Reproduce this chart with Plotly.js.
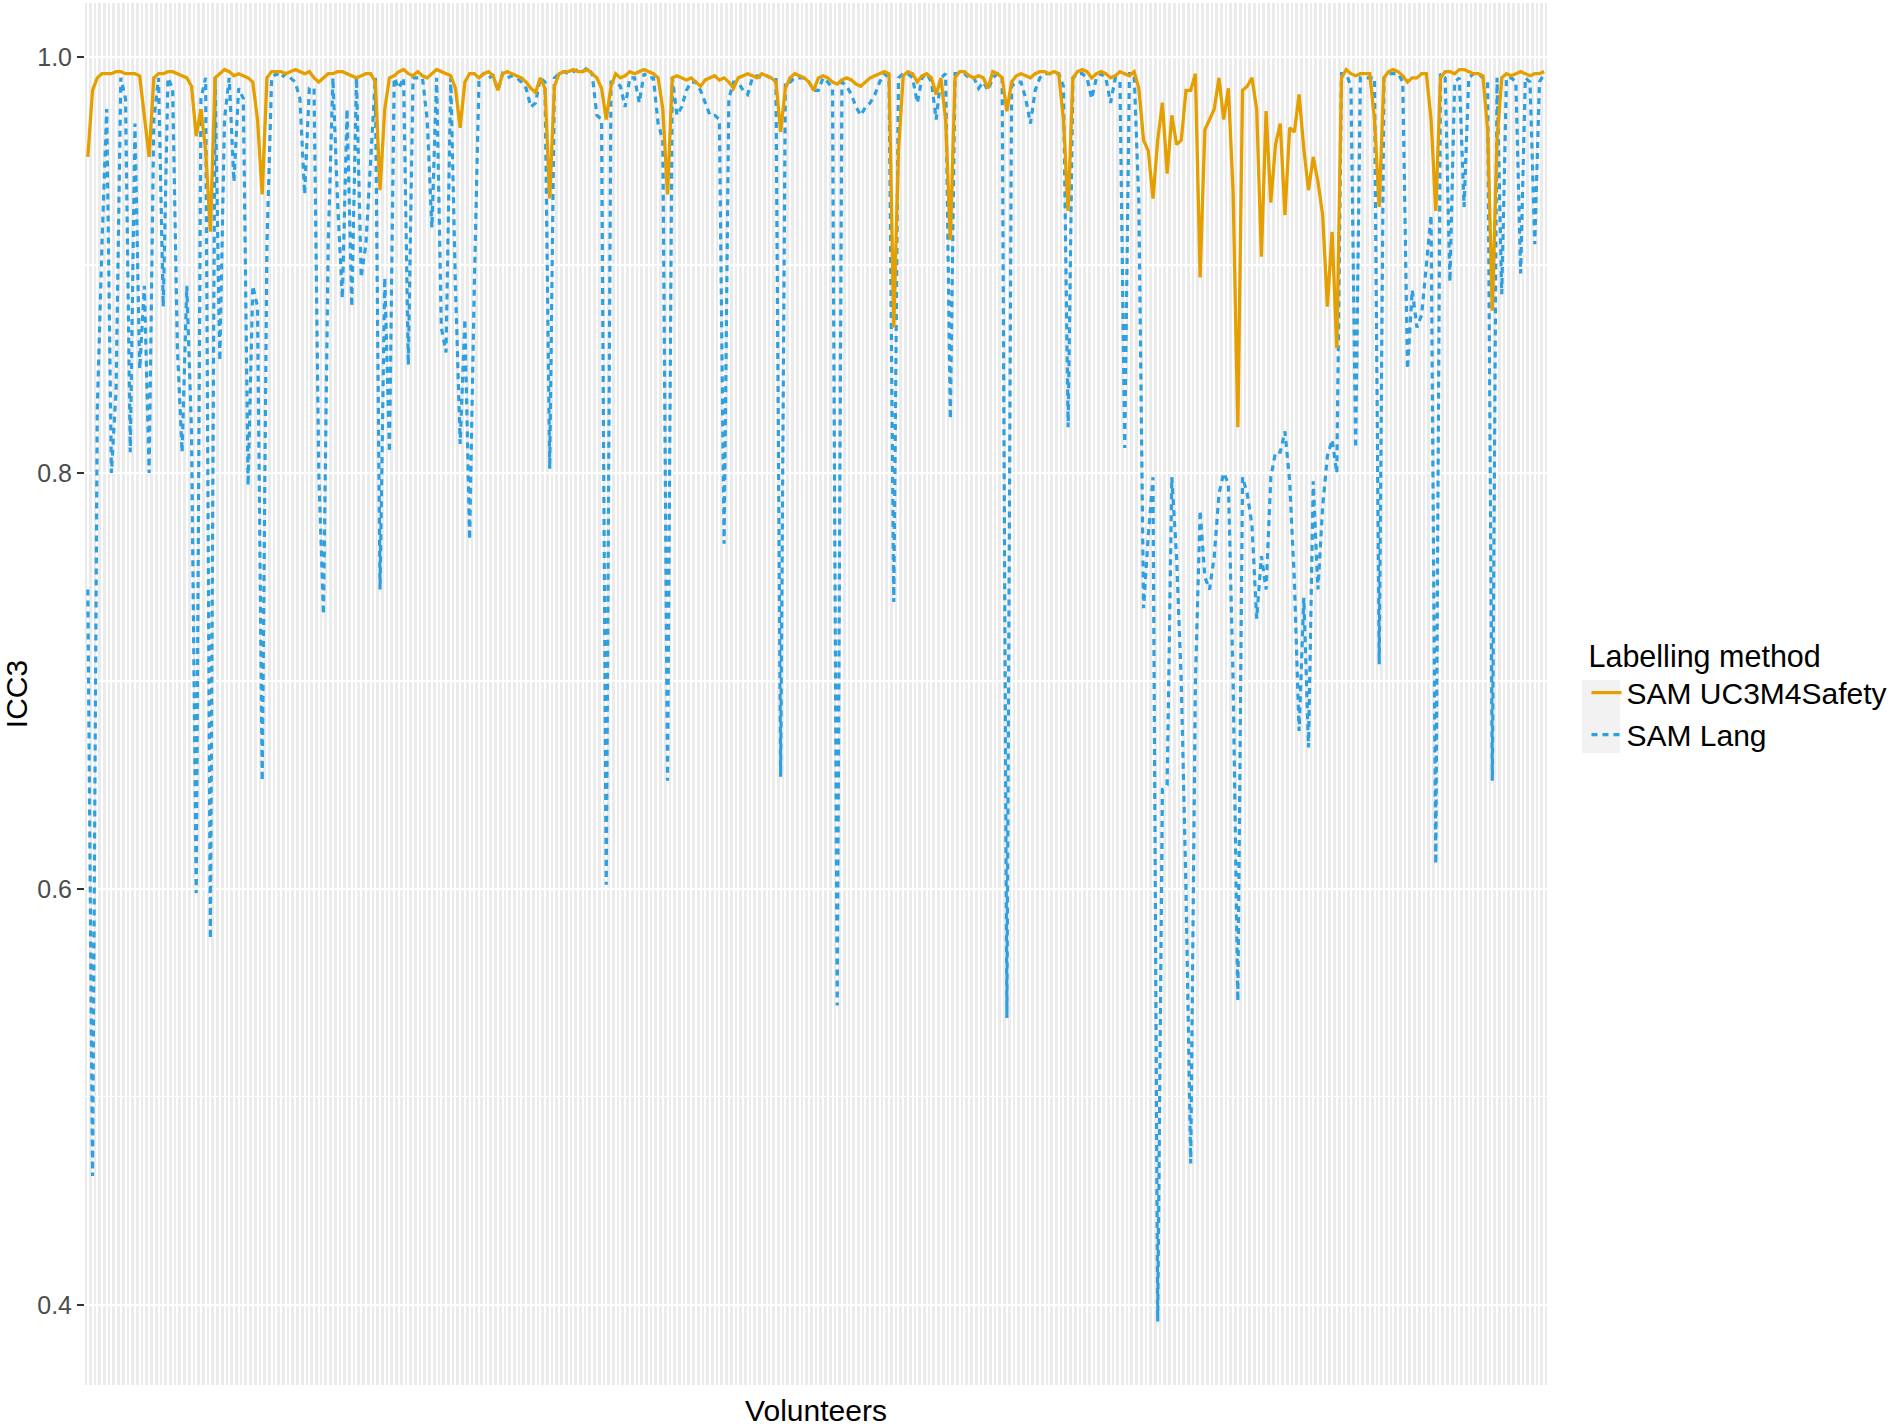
<!DOCTYPE html>
<html>
<head>
<meta charset="utf-8">
<script src="https://cdn.plot.ly/plotly-3.0.1.min.js"></script>
<style>
  html, body { margin: 0; padding: 0; background: #ffffff; }
  #icc_plot { width: 1901px; height: 1427px; }
</style>
</head>
<body>
<div id="icc_plot"></div>
<script>
// ICC3 per volunteer (one value per volunteer, left to right)
const seriesNames = ['SAM UC3M4Safety', 'SAM Lang'];

const iccUC3M = [
  0.952, 0.984, 0.990, 0.992, 0.992, 0.992, 0.993, 0.993, 0.992, 0.992,
  0.992, 0.991, 0.970, 0.952, 0.990, 0.992, 0.992, 0.993, 0.993, 0.992,
  0.991, 0.990, 0.986, 0.962, 0.975, 0.955, 0.916, 0.990, 0.992, 0.994,
  0.993, 0.991, 0.992, 0.991, 0.990, 0.988, 0.970, 0.934, 0.990, 0.993,
  0.993, 0.993, 0.992, 0.993, 0.994, 0.993, 0.992, 0.993, 0.990, 0.988,
  0.990, 0.992, 0.992, 0.993, 0.993, 0.992, 0.991, 0.990, 0.991, 0.992,
  0.992, 0.988, 0.936, 0.975, 0.990, 0.991, 0.993, 0.994, 0.992, 0.991,
  0.993, 0.991, 0.990, 0.992, 0.994, 0.993, 0.992, 0.991, 0.985, 0.966,
  0.988, 0.992, 0.992, 0.990, 0.992, 0.993, 0.991, 0.984, 0.992, 0.993,
  0.992, 0.991, 0.990, 0.988, 0.985, 0.983, 0.990, 0.985, 0.932, 0.986,
  0.992, 0.993, 0.993, 0.994, 0.993, 0.993, 0.994, 0.992, 0.990, 0.985,
  0.970, 0.986, 0.992, 0.990, 0.991, 0.993, 0.992, 0.993, 0.994, 0.993,
  0.992, 0.990, 0.975, 0.934, 0.990, 0.991, 0.990, 0.989, 0.990, 0.988,
  0.986, 0.989, 0.990, 0.991, 0.989, 0.990, 0.988, 0.985, 0.990, 0.991,
  0.992, 0.991, 0.990, 0.992, 0.991, 0.990, 0.988, 0.964, 0.985, 0.990,
  0.992, 0.991, 0.990, 0.988, 0.984, 0.990, 0.991, 0.990, 0.988, 0.987,
  0.989, 0.990, 0.989, 0.987, 0.986, 0.988, 0.990, 0.991, 0.992, 0.993,
  0.992, 0.870, 0.955, 0.991, 0.993, 0.992, 0.988, 0.991, 0.992, 0.990,
  0.982, 0.990, 0.970, 0.912, 0.990, 0.993, 0.993, 0.991, 0.990, 0.991,
  0.990, 0.985, 0.993, 0.992, 0.990, 0.974, 0.988, 0.991, 0.992, 0.991,
  0.990, 0.992, 0.993, 0.993, 0.992, 0.993, 0.992, 0.970, 0.926, 0.990,
  0.993, 0.994, 0.993, 0.990, 0.992, 0.993, 0.992, 0.990, 0.991, 0.993,
  0.992, 0.991, 0.993, 0.985, 0.960, 0.955, 0.932, 0.960, 0.978, 0.944,
  0.972, 0.958, 0.960, 0.984, 0.984, 0.992, 0.894, 0.965, 0.970, 0.975,
  0.990, 0.970, 0.985, 0.935, 0.822, 0.984, 0.986, 0.990, 0.975, 0.904,
  0.974, 0.930, 0.958, 0.968, 0.924, 0.966, 0.964, 0.982, 0.956, 0.936,
  0.952, 0.940, 0.924, 0.880, 0.916, 0.860, 0.990, 0.994, 0.992, 0.991,
  0.992, 0.992, 0.992, 0.970, 0.928, 0.990, 0.993, 0.994, 0.993, 0.991,
  0.988, 0.990, 0.990, 0.992, 0.992, 0.970, 0.926, 0.990, 0.993, 0.993,
  0.992, 0.994, 0.994, 0.993, 0.992, 0.992, 0.991, 0.965, 0.878, 0.960,
  0.990, 0.992, 0.991, 0.992, 0.993, 0.992, 0.991, 0.992, 0.992, 0.993
];

const iccLang = [
  0.744, 0.462, 0.830, 0.910, 0.975, 0.800, 0.840, 0.990, 0.980, 0.810,
  0.968, 0.850, 0.890, 0.800, 0.970, 0.990, 0.880, 0.990, 0.985, 0.860,
  0.810, 0.890, 0.820, 0.598, 0.980, 0.990, 0.576, 0.990, 0.854, 0.970,
  0.990, 0.940, 0.985, 0.980, 0.794, 0.890, 0.880, 0.652, 0.910, 0.990,
  0.992, 0.990, 0.992, 0.990, 0.988, 0.980, 0.934, 0.985, 0.985, 0.800,
  0.732, 0.910, 0.990, 0.930, 0.884, 0.975, 0.880, 0.990, 0.894, 0.910,
  0.948, 0.990, 0.744, 0.894, 0.810, 0.990, 0.985, 0.990, 0.852, 0.990,
  0.990, 0.990, 0.970, 0.918, 0.990, 0.870, 0.858, 0.990, 0.890, 0.814,
  0.874, 0.768, 0.890, 0.990, 0.992, 0.990, 0.991, 0.984, 0.992, 0.990,
  0.991, 0.990, 0.988, 0.985, 0.976, 0.978, 0.990, 0.988, 0.802, 0.990,
  0.992, 0.993, 0.992, 0.993, 0.994, 0.993, 0.995, 0.992, 0.972, 0.970,
  0.602, 0.988, 0.988, 0.986, 0.976, 0.990, 0.990, 0.978, 0.992, 0.990,
  0.990, 0.968, 0.960, 0.652, 0.990, 0.972, 0.976, 0.984, 0.988, 0.988,
  0.984, 0.978, 0.972, 0.972, 0.970, 0.766, 0.980, 0.988, 0.988, 0.984,
  0.982, 0.990, 0.991, 0.990, 0.991, 0.990, 0.990, 0.654, 0.988, 0.988,
  0.990, 0.990, 0.990, 0.988, 0.984, 0.984, 0.990, 0.988, 0.985, 0.544,
  0.988, 0.986, 0.982, 0.976, 0.972, 0.976, 0.978, 0.982, 0.988, 0.992,
  0.990, 0.738, 0.990, 0.992, 0.992, 0.990, 0.978, 0.990, 0.992, 0.988,
  0.970, 0.990, 0.992, 0.826, 0.992, 0.992, 0.992, 0.990, 0.990, 0.985,
  0.988, 0.984, 0.990, 0.992, 0.990, 0.538, 0.986, 0.988, 0.988, 0.980,
  0.968, 0.984, 0.990, 0.992, 0.992, 0.992, 0.992, 0.986, 0.822, 0.990,
  0.992, 0.992, 0.990, 0.980, 0.990, 0.992, 0.990, 0.978, 0.990, 0.988,
  0.812, 0.992, 0.992, 0.930, 0.735, 0.770, 0.798, 0.392, 0.648, 0.650,
  0.798, 0.760, 0.700, 0.600, 0.468, 0.700, 0.782, 0.750, 0.744, 0.760,
  0.790, 0.800, 0.795, 0.700, 0.546, 0.798, 0.790, 0.775, 0.730, 0.760,
  0.744, 0.798, 0.810, 0.810, 0.820, 0.796, 0.748, 0.676, 0.740, 0.668,
  0.796, 0.744, 0.784, 0.808, 0.816, 0.800, 0.992, 0.992, 0.986, 0.812,
  0.990, 0.990, 0.990, 0.990, 0.708, 0.990, 0.992, 0.992, 0.992, 0.988,
  0.850, 0.888, 0.870, 0.876, 0.900, 0.924, 0.612, 0.992, 0.990, 0.892,
  0.988, 0.990, 0.928, 0.990, 0.992, 0.992, 0.990, 0.988, 0.652, 0.990,
  0.886, 0.990, 0.990, 0.988, 0.896, 0.990, 0.988, 0.910, 0.988, 0.992
];

// volunteers are plotted by their position on a discrete axis
const volunteers = iccLang.map((_, i) => i);

const fontFamily = '"Liberation Sans", Arial, sans-serif';

const traceLang = {
  x: volunteers,
  y: iccLang,
  name: seriesNames[1],
  type: 'scatter',
  mode: 'lines',
  line: { color: '#2E9FDF', width: 3.2, dash: '6px,5px' },
  hoverinfo: 'skip',
};
const traceUC3M = {
  x: volunteers,
  y: iccUC3M,
  name: seriesNames[0],
  type: 'scatter',
  mode: 'lines',
  line: { color: '#E69F00', width: 3.3 },
  hoverinfo: 'skip',
};

const layout = {
  width: 1901,
  height: 1427,
  margin: { l: 85, r: 354, t: 3, b: 42 },
  paper_bgcolor: '#ffffff',
  plot_bgcolor: '#EBEBEB',
  font: { family: fontFamily, color: '#000000' },
  showlegend: true,
  legend: {
    x: 1.027,
    xanchor: 'left',
    y: 0.5,
    yanchor: 'middle',
    traceorder: 'reversed',
    bgcolor: 'rgba(0,0,0,0)',
    font: { family: fontFamily, size: 30, color: '#000000' },
    title: { text: 'Labelling method', font: { family: fontFamily, size: 30.5, color: '#000000' } },
    itemwidth: 30,
    tracegroupgap: 0,
  },
  // grey key background behind the legend samples, as in ggplot
  shapes: [{
    type: 'rect', xref: 'paper', yref: 'paper',
    x0: 1.0239, x1: 1.0500, y0: 0.4573, y1: 0.5101,
    fillcolor: '#F2F2F2', line: { width: 0 }, layer: 'below',
  }],
  xaxis: {
    range: [-0.6, volunteers.length - 1 + 0.6],
    tick0: 0,
    dtick: 1,
    showticklabels: false,
    ticks: '',
    showgrid: true,
    gridcolor: '#ffffff',
    gridwidth: 2,
    zeroline: false,
    showline: false,
    automargin: false,
    title: { text: 'Volunteers', font: { family: fontFamily, size: 30, color: '#000000' }, standoff: 16 },
  },
  yaxis: {
    range: [0.3615, 1.026],
    tick0: 0,
    dtick: 0.2,
    tickformat: '.1f',
    ticks: 'outside',
    ticklen: 7,
    tickwidth: 2,
    tickcolor: '#333333',
    tickfont: { family: fontFamily, size: 25, color: '#4D4D4D' },
    showgrid: true,
    gridcolor: '#ffffff',
    gridwidth: 2.4,
    minor: { tick0: 0, dtick: 0.1, showgrid: true, gridcolor: '#ffffff', gridwidth: 1.1 },
    zeroline: false,
    showline: false,
    automargin: false,
    title: { text: 'ICC3', font: { family: fontFamily, size: 30, color: '#000000' }, standoff: 10 },
  },
};

const config = { displayModeBar: false, staticPlot: true };

Plotly.newPlot(document.getElementById('icc_plot'), [traceLang, traceUC3M], layout, config);
</script>
</body>
</html>
